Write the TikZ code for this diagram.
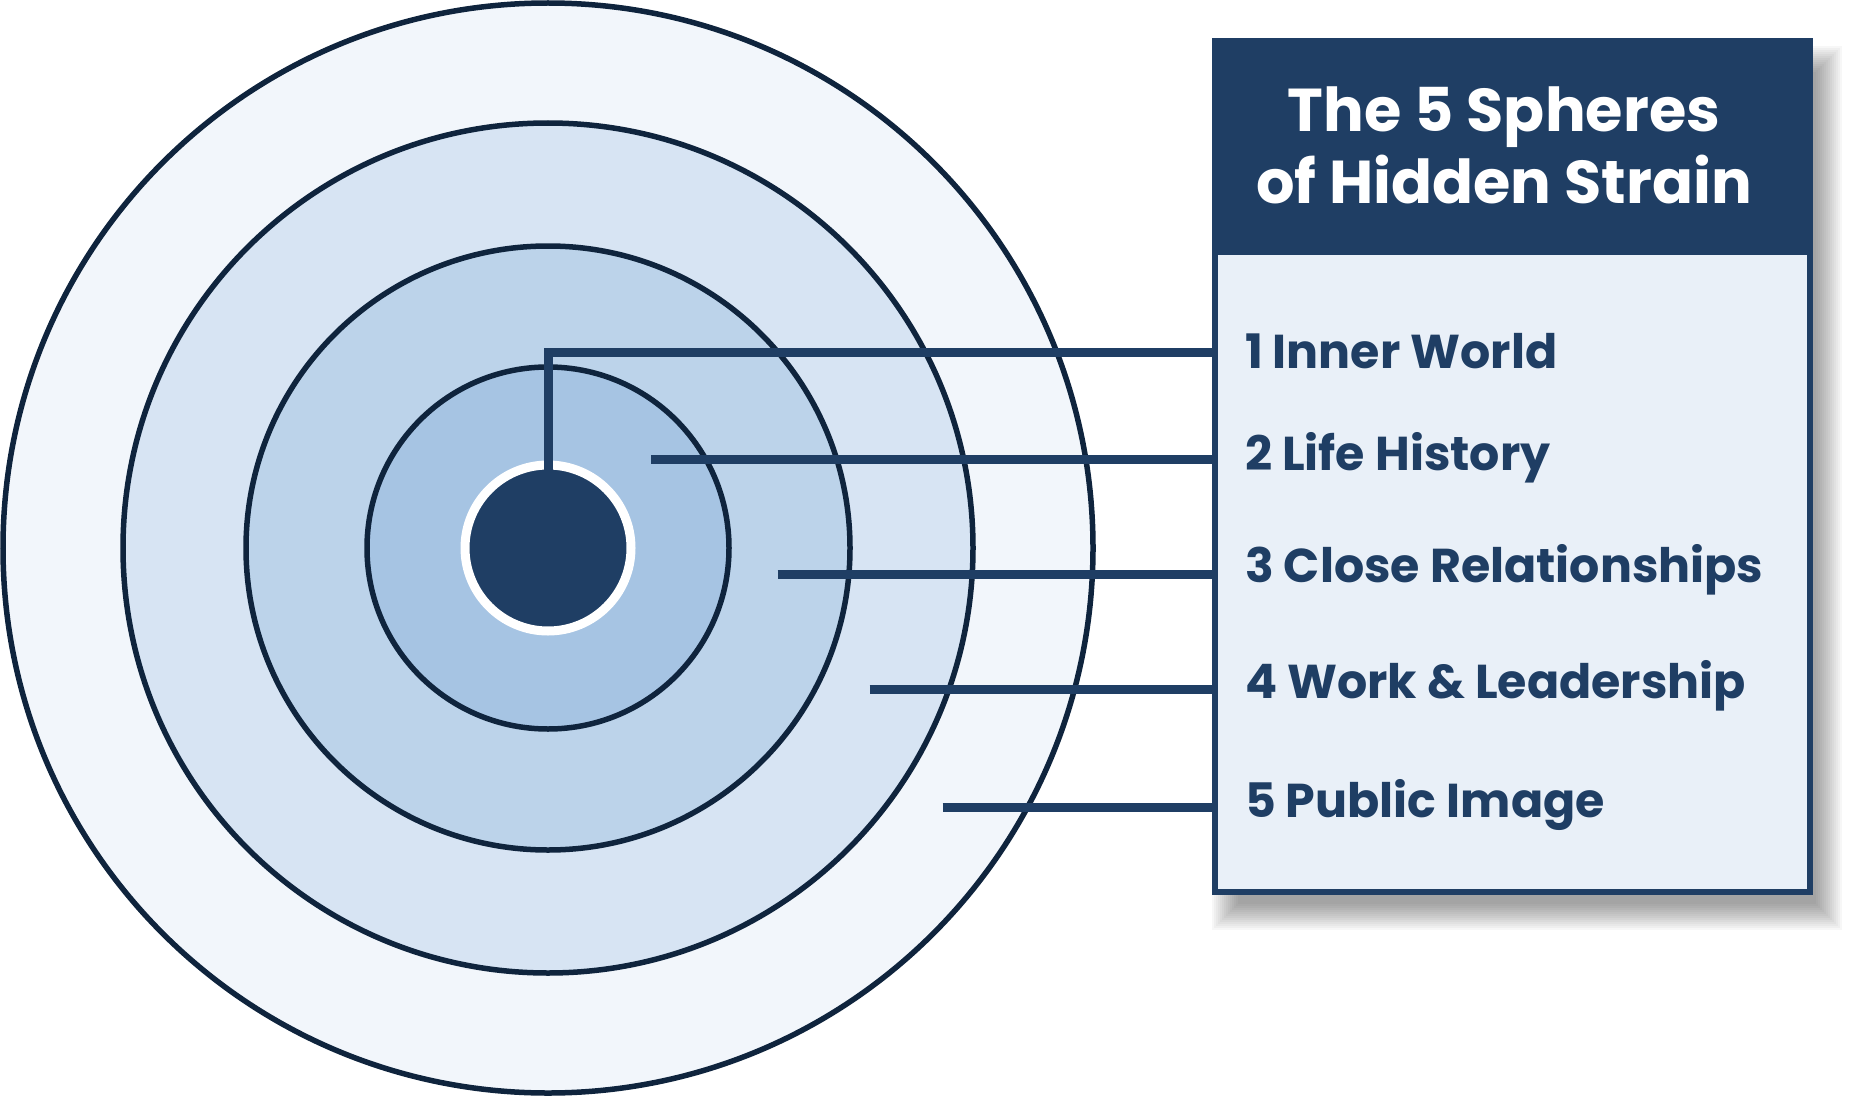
\documentclass[tikz,border=0pt]{standalone}
\usepackage{fontspec}
\setmainfont{Poppins}
\definecolor{navy}{HTML}{1F3E64}
\definecolor{ringline}{HTML}{0F243D}
\definecolor{fillA}{HTML}{F2F6FB}
\definecolor{fillB}{HTML}{D7E4F3}
\definecolor{fillC}{HTML}{BCD3EA}
\definecolor{fillD}{HTML}{A6C4E3}
\definecolor{bodyfill}{HTML}{E9F0F8}
\tikzset{
  ringstyle/.style={draw=ringline, line width=5.5pt},
  conn/.style={draw=navy, line width=9pt, line join=miter},
  lab/.style={anchor=base west, inner sep=0pt, outer sep=0pt, text=navy, font=\fontsize{47.5}{57}\selectfont\bfseries},
  titlestyle/.style={anchor=base, inner sep=0pt, text=white, font=\fontsize{60.5}{72}\selectfont\bfseries},
}
\begin{document}
\begin{tikzpicture}[x=1pt,y=-1pt]
\useasboundingbox (0,0) rectangle (1850,1097);
% target circles
\coordinate (c) at (548,548);
\draw[ringstyle, fill=fillA] (c) circle[radius=545];
\draw[ringstyle, fill=fillB] (c) circle[radius=425];
\draw[ringstyle, fill=fillC] (c) circle[radius=302];
\draw[ringstyle, fill=fillD] (c) circle[radius=181];
\node[circle, fill=navy, draw=white, line width=9pt, minimum size=166pt, inner sep=0pt, outer sep=0pt] (dot) at (c) {};
% shadow of the box
\foreach \i in {0,...,13}{
  \fill[black, opacity=0.03] (1226-14+\i*2, 60-14+\i*2) rectangle (1828+14-\i*2, 916+14-\i*2);
}
% box
\node[draw=navy, line width=6pt, fill=bodyfill, minimum width=595pt, minimum height=851pt, inner sep=0pt, outer sep=0pt] (box) at (1512.5,466.5) {};
\fill[navy] (1212,38) rectangle (1813,255);
\node[titlestyle] (t1) at (1504,131.7) {The 5 Spheres};
\node[titlestyle] (t2) at (1504,203.3) {of Hidden Strain};
% labels
\node[lab] (l1) at (1245,368.3) {1 Inner World};
\node[lab] (l2) at (1245,470) {2 Life History};
\node[lab] (l3) at (1245,582) {3 Close Relationships};
\node[lab] (l4) at (1245,698) {4 Work \& Leadership};
\node[lab] (l5) at (1245,817) {5 Public Image};
% connector ends
\coordinate (e1) at (1215,352.5);
\coordinate (e2) at (1215,459.5);
\coordinate (e3) at (1215,574.5);
\coordinate (e4) at (1215,689);
\coordinate (e5) at (1215,807);
\coordinate (s2) at (651,459.5);
\coordinate (s3) at (777.5,574.5);
\coordinate (s4) at (869.5,689);
\coordinate (s5) at (942.5,807);
\draw[conn] ([yshift=-4.5pt]dot.north) |- (e1);
\draw[conn] (s2) -- (e2);
\draw[conn] (s3) -- (e3);
\draw[conn] (s4) -- (e4);
\draw[conn] (s5) -- (e5);
\end{tikzpicture}
\end{document}
